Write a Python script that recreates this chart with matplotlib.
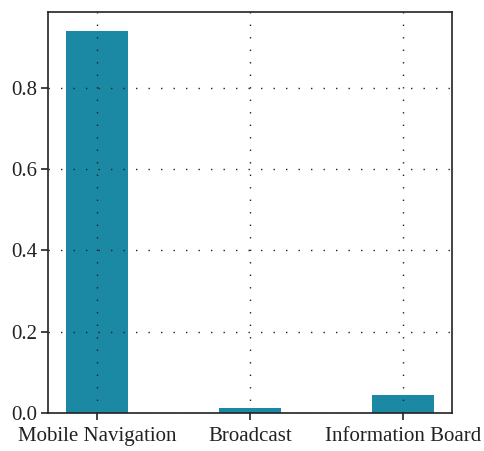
import matplotlib.pyplot as plt

categories = ["Mobile Navigation", "Broadcast", "Information Board"]
values = [0.940, 0.012, 0.044]
yticks = [0.0, 0.2, 0.4, 0.6, 0.8]

plt.rcParams['font.family'] = ['Liberation Serif', 'DejaVu Serif']

fig = plt.figure(figsize=(4.85, 4.51), dpi=100)
ax = fig.add_axes([48 / 485, 38 / 451, 404 / 485, 401 / 451])

x = list(range(len(categories)))
ax.bar(x, values, width=0.4, color='#1b88a4', zorder=1)

ax.set_xlim(-0.32, 2.32)
ax.set_ylim(0, 0.987)
ax.set_xticks(x)
ax.set_xticklabels(categories)
ax.set_yticks(yticks)
ax.set_yticklabels([f"{v:.1f}" for v in yticks])
ax.tick_params(labelsize=15, direction='out', length=5, width=1.2, colors='#222222')
ax.tick_params(axis='x', pad=5)
ax.tick_params(axis='y', pad=3)

ax.grid(True, linestyle=(0, (1, 8)), color='#222222', linewidth=1.0)
ax.set_axisbelow(False)
for s in ax.spines.values():
    s.set_linewidth(1.2)
    s.set_color('#222222')

fig.savefig('out.png', dpi=100)
